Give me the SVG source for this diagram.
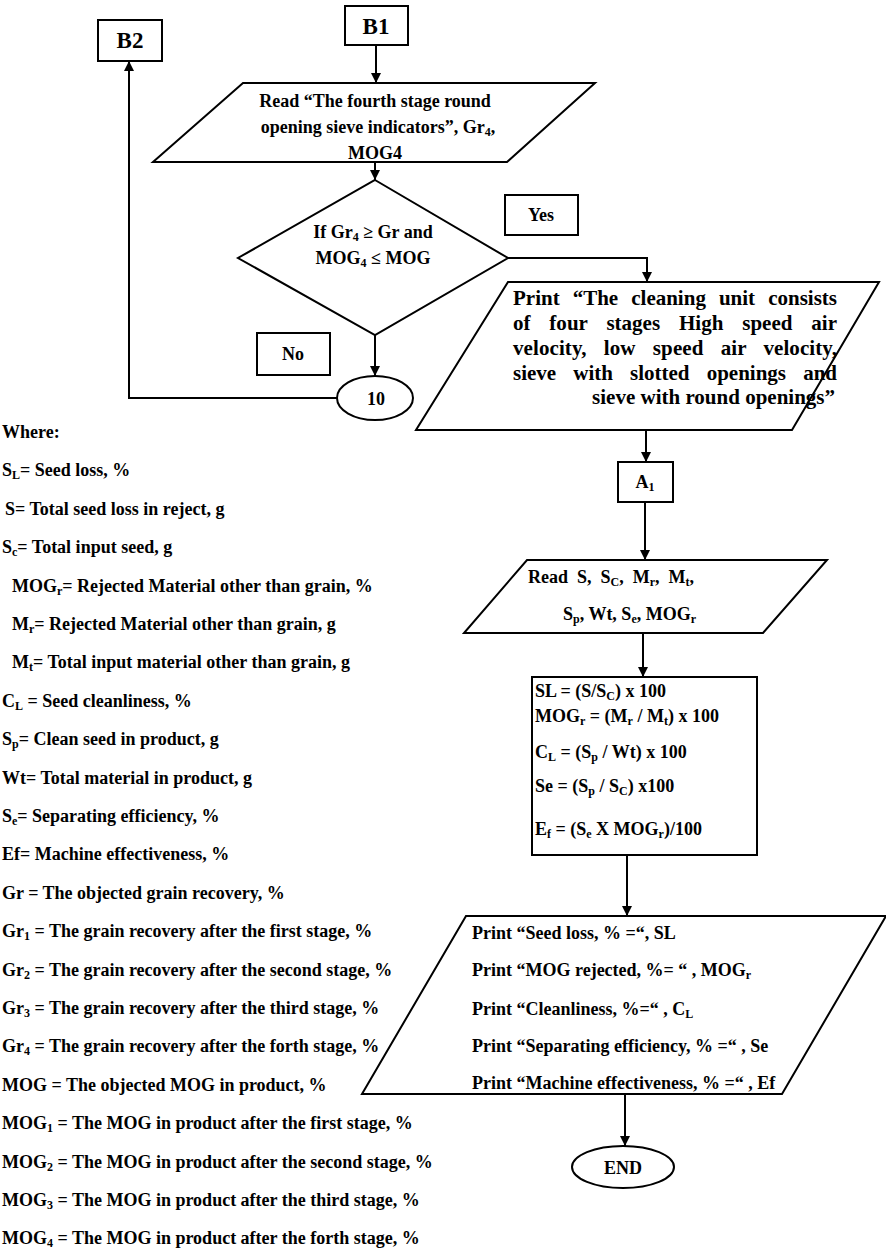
<svg xmlns="http://www.w3.org/2000/svg" width="886" height="1249" viewBox="0 0 886 1249">
<defs>
<marker id="ah" viewBox="0 0 10 10" refX="10" refY="5" markerWidth="10" markerHeight="10" markerUnits="userSpaceOnUse" orient="auto">
<path d="M0,0 L10,5 L0,10 z" fill="#000"/>
</marker>
</defs>
<style>
.s{fill:#fff;stroke:#000;stroke-width:2}
.c{fill:none;stroke:#000;stroke-width:2;marker-end:url(#ah)}
text{font-family:"Liberation Serif","Times New Roman",serif;font-weight:bold;font-size:18px;fill:#000}
.m{text-anchor:middle}
.big{font-size:23px}
.pb{font-size:21px}
</style>
<rect width="886" height="1249" fill="#fff"/>
<g id="connectors">
<path class="c" d="M376,45 V83"/>
<path class="c" d="M375,162 V180"/>
<path class="c" d="M375,335 V376"/>
<path class="c" d="M337,398 H129 V61"/>
<path class="c" d="M508,258 H647 V282"/>
<path class="c" d="M646,430 V462"/>
<path class="c" d="M645,502 V560"/>
<path class="c" d="M643,633 V677"/>
<path class="c" d="M627,855 V916"/>
<path class="c" d="M625,1094 V1146"/>
</g>
<g id="b2"><rect class="s" x="98" y="20" width="64" height="41"/><text class="m big" x="130" y="48">B2</text></g>
<g id="b1"><rect class="s" x="345" y="6" width="63" height="39"/><text class="m big" x="376" y="34">B1</text></g>
<g id="read4">
<polygon class="s" points="243,83 595,83 507,162 153,162"/>
<text class="m" x="375" y="107">Read “The fourth stage round</text>
<text class="m" x="378" y="133">opening sieve indicators”, Gr<tspan font-size="12" dy="3">4</tspan><tspan dy="-3">,</tspan></text>
<text class="m" x="375" y="159">MOG4</text>
</g>
<g id="decision">
<polygon class="s" points="375,180 508,258 375,335 238,258"/>
<text class="m" x="373" y="238">If Gr<tspan font-size="12" dy="3">4</tspan><tspan dy="-3"> ≥ Gr and</tspan></text>
<text class="m" x="373" y="264">MOG<tspan font-size="12" dy="3">4</tspan><tspan dy="-3"> ≤ MOG</tspan></text>
</g>
<g id="yes"><rect class="s" x="505" y="195" width="73" height="40"/><text class="m" x="541" y="221">Yes</text></g>
<g id="no"><rect class="s" x="257" y="333" width="73" height="42"/><text class="m" x="293" y="360">No</text></g>
<g id="c10"><ellipse class="s" cx="375" cy="398" rx="38" ry="22"/><text class="m" x="376" y="405">10</text></g>
<g id="print4">
<polygon class="s" points="508,282 879,282 792,430 416,430"/>
<text class="pb" x="513" y="305" word-spacing="7.8" textLength="324" lengthAdjust="spacing">Print “The cleaning unit consists</text>
<text class="pb" x="513" y="330" word-spacing="13.6" textLength="324" lengthAdjust="spacing">of four stages High speed air</text>
<text class="pb" x="513" y="355" word-spacing="11.9" textLength="324" lengthAdjust="spacing">velocity, low speed air velocity,</text>
<text class="pb" x="513" y="380" word-spacing="11.9" textLength="324" lengthAdjust="spacing">sieve with slotted openings and</text>
<text class="pb" x="835" y="404" text-anchor="end">sieve with round openings”</text>
</g>
<g id="a1"><rect class="s" x="618" y="462" width="55" height="40"/><text class="m" x="645" y="488">A<tspan font-size="12" dy="3">1</tspan></text></g>
<g id="readvals">
<polygon class="s" points="527,560 827,560 763,633 464,633"/>
<text x="528" y="583" xml:space="preserve">Read  S,  S<tspan font-size="12" dy="3">C</tspan><tspan dy="-3">,  M</tspan><tspan font-size="12" dy="3">r</tspan><tspan dy="-3">,  M</tspan><tspan font-size="12" dy="3">t</tspan><tspan dy="-3">,</tspan></text>
<text x="563" y="620">S<tspan font-size="12" dy="3">p</tspan><tspan dy="-3">, Wt, S</tspan><tspan font-size="12" dy="3">e</tspan><tspan dy="-3">, MOG</tspan><tspan font-size="12" dy="3">r</tspan></text>
</g>
<g id="formulas">
<rect class="s" x="532" y="677" width="225" height="178"/>
<text x="535" y="697">SL = (S/S<tspan font-size="12" dy="3">C</tspan><tspan dy="-3">) x 100</tspan></text>
<text x="535" y="722">MOG<tspan font-size="12" dy="3">r</tspan><tspan dy="-3"> = (M</tspan><tspan font-size="12" dy="3">r</tspan><tspan dy="-3"> / M</tspan><tspan font-size="12" dy="3">t</tspan><tspan dy="-3">) x 100</tspan></text>
<text x="535" y="758">C<tspan font-size="12" dy="3">L</tspan><tspan dy="-3"> = (S</tspan><tspan font-size="12" dy="3">p</tspan><tspan dy="-3"> / Wt) x 100</tspan></text>
<text x="535" y="792">Se = (S<tspan font-size="12" dy="3">p</tspan><tspan dy="-3"> / S</tspan><tspan font-size="12" dy="3">C</tspan><tspan dy="-3">) x100</tspan></text>
<text x="535" y="835">E<tspan font-size="12" dy="3">f</tspan><tspan dy="-3"> = (S</tspan><tspan font-size="12" dy="3">e</tspan><tspan dy="-3"> X MOG</tspan><tspan font-size="12" dy="3">r</tspan><tspan dy="-3">)/100</tspan></text>
</g>
<g id="output">
<polygon class="s" points="466,916 886,916 782,1094 362,1094"/>
<text x="472" y="939">Print “Seed loss, % =“, SL</text>
<text x="472" y="976">Print “MOG rejected, %= “ , MOG<tspan font-size="12" dy="3">r</tspan></text>
<text x="472" y="1015">Print “Cleanliness, %=“ , C<tspan font-size="12" dy="3">L</tspan></text>
<text x="472" y="1052">Print “Separating efficiency, % =“ , Se</text>
<text x="472" y="1089">Print “Machine effectiveness, % =“ , Ef</text>
</g>
<g id="end"><ellipse class="s" cx="623" cy="1167" rx="51" ry="21"/><text class="m" x="623" y="1174">END</text></g>
<g id="legend">
<text x="2" y="438">Where:</text>
<text x="2" y="476">S<tspan font-size="12" dy="3">L</tspan><tspan dy="-3">= Seed loss, %</tspan></text>
<text x="5" y="515">S= Total seed loss in reject, g</text>
<text x="2" y="553">S<tspan font-size="12" dy="3">c</tspan><tspan dy="-3">= Total input seed, g</tspan></text>
<text x="12" y="592">MOG<tspan font-size="12" dy="3">r</tspan><tspan dy="-3">= Rejected Material other than grain, %</tspan></text>
<text x="12" y="630">M<tspan font-size="12" dy="3">r</tspan><tspan dy="-3">= Rejected Material other than grain, g</tspan></text>
<text x="12" y="668">M<tspan font-size="12" dy="3">t</tspan><tspan dy="-3">= Total input material other than grain, g</tspan></text>
<text x="2" y="707">C<tspan font-size="12" dy="3">L</tspan><tspan dy="-3"> = Seed cleanliness, %</tspan></text>
<text x="2" y="745">S<tspan font-size="12" dy="3">p</tspan><tspan dy="-3">= Clean seed in product, g</tspan></text>
<text x="2" y="784">Wt= Total material in product, g</text>
<text x="2" y="822">S<tspan font-size="12" dy="3">e</tspan><tspan dy="-3">= Separating efficiency, %</tspan></text>
<text x="2" y="860">Ef= Machine effectiveness, %</text>
<text x="2" y="899">Gr = The objected grain recovery, %</text>
<text x="2" y="937">Gr<tspan font-size="12" dy="3">1</tspan><tspan dy="-3"> = The grain recovery after the first stage, %</tspan></text>
<text x="2" y="976">Gr<tspan font-size="12" dy="3">2</tspan><tspan dy="-3"> = The grain recovery after the second stage, %</tspan></text>
<text x="2" y="1014">Gr<tspan font-size="12" dy="3">3</tspan><tspan dy="-3"> = The grain recovery after the third stage, %</tspan></text>
<text x="2" y="1052">Gr<tspan font-size="12" dy="3">4</tspan><tspan dy="-3"> = The grain recovery after the forth stage, %</tspan></text>
<text x="2" y="1091">MOG = The objected MOG in product, %</text>
<text x="2" y="1129">MOG<tspan font-size="12" dy="3">1</tspan><tspan dy="-3"> = The MOG in product after the first stage, %</tspan></text>
<text x="2" y="1168">MOG<tspan font-size="12" dy="3">2</tspan><tspan dy="-3"> = The MOG in product after the second stage, %</tspan></text>
<text x="2" y="1206">MOG<tspan font-size="12" dy="3">3</tspan><tspan dy="-3"> = The MOG in product after the third stage, %</tspan></text>
<text x="2" y="1244">MOG<tspan font-size="12" dy="3">4</tspan><tspan dy="-3"> = The MOG in product after the forth stage, %</tspan></text>
</g>
</svg>
